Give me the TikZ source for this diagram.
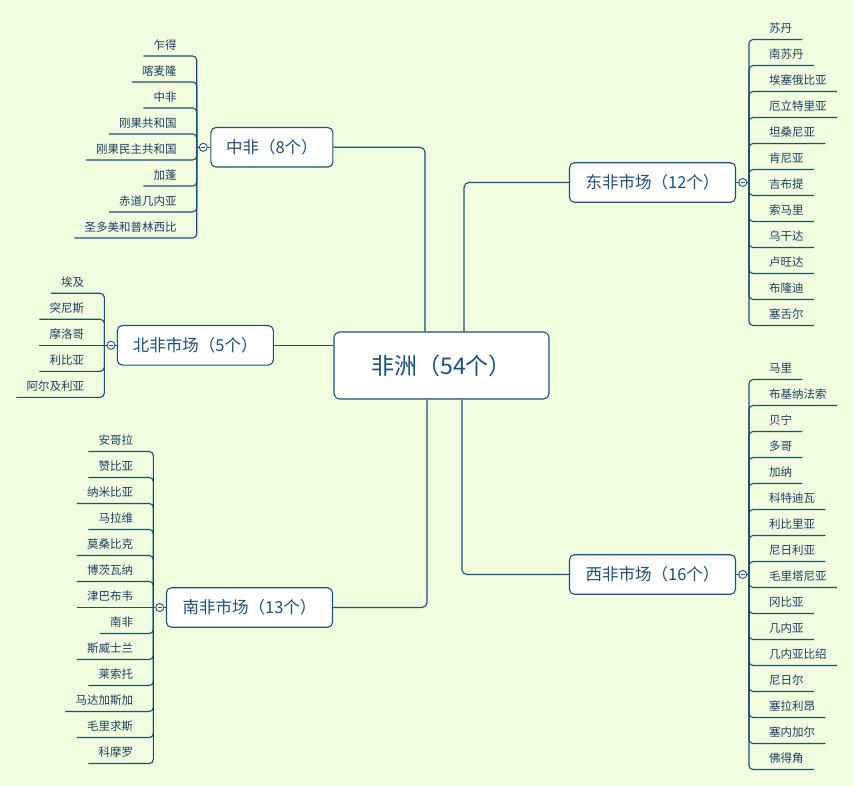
\documentclass[tikz,border=0pt]{standalone}
\usepackage{fontspec}
\newfontfamily\cjk{Noto Sans CJK SC}
\definecolor{bgc}{HTML}{F0FDDF}
\definecolor{lnc}{HTML}{1F4E79}
\definecolor{txc}{HTML}{1E3D60}
\begin{document}
\begin{tikzpicture}[x=1pt,y=-1pt,
  conn/.style={draw=lnc,line width=1.1pt,rounded corners=5pt},
  leafline/.style={draw=lnc,line width=1.1pt,rounded corners=4pt},
  rootbox/.style={draw=lnc,line width=1.1pt,fill=white,rounded corners=6pt,
    minimum width=215pt,minimum height=67pt,inner sep=0pt,
    font=\cjk\fontsize{23}{28}\selectfont,text=lnc},
  branchbox/.style={draw=lnc,line width=1.1pt,fill=white,rounded corners=5pt,
    minimum height=39.5pt,inner sep=0pt,
    font=\cjk\fontsize{16.5}{20}\selectfont,text=lnc},
  leafL/.style={anchor=south east,inner xsep=10pt,inner ysep=0pt,minimum height=22pt,
    font=\cjk\fontsize{11.5}{14}\selectfont,text=txc},
  leafR/.style={anchor=south west,inner xsep=10pt,inner ysep=0pt,minimum height=22pt,
    font=\cjk\fontsize{11.5}{14}\selectfont,text=txc},
  collapser/.style={circle,draw=lnc,line width=0.9pt,fill=white,minimum size=8pt,inner sep=0pt,
    path picture={\draw[lnc,line width=0.7pt]
      ([xshift=-2pt]path picture bounding box.center) --
      ([xshift=2pt]path picture bounding box.center);}}
]
\useasboundingbox[fill=bgc] (0,0) rectangle (854,786);

% root and branches
\node[rootbox] (root) at (441.5,365.5) {非洲（54个）};
\node[branchbox,minimum width=122pt] (zf) at (271.9,147.3) {中非（8个）};
\node[branchbox,minimum width=156pt] (bf) at (195.3,345.3) {北非市场（5个）};
\node[branchbox,minimum width=166pt] (nf) at (249.5,607.5) {南非市场（13个）};
\node[branchbox,minimum width=166pt] (df) at (652.5,182.5) {东非市场（12个）};
\node[branchbox,minimum width=166pt] (xf) at (652.5,574.5) {西非市场（16个）};

\draw[conn] (zf.east) -| ([xshift=-16.5pt]root.north);
\draw[conn] (df.west) -| ([xshift=22.5pt]root.north);
\draw[conn] (nf.east) -| ([xshift=-14.5pt]root.south);
\draw[conn] (xf.west) -| ([xshift=20.5pt]root.south);
\draw[conn] (bf.east) -- (bf.east -| root.west);

% collapse circles and bar points
\node[collapser] (zfc) at (203.3,147.3) {};
\node[collapser] (bfc) at (111,345.3) {};
\node[collapser] (nfc) at (159.7,607.5) {};
\node[collapser] (dfc) at (742.7,182.5) {};
\node[collapser] (xfc) at (742.7,574.5) {};
\coordinate (zfbar) at (196.7,147.3);
\coordinate (bfbar) at (104.3,345.3);
\coordinate (nfbar) at (153.3,607.5);
\coordinate (dfbar) at (749,182.5);
\coordinate (xfbar) at (749,574.5);
\foreach \b in {zf,bf,nf}{
  \draw[conn] (\b.west) -- (\b c.east);
  \draw[conn] (\b c.west) -- (\b bar);
}
\foreach \b in {df,xf}{
  \draw[conn] (\b.east) -- (\b c.west);
  \draw[conn] (\b c.east) -- (\b bar);
}

% 中非
\foreach \t [count=\i] in {乍得,喀麦隆,中非,刚果共和国,刚果民主共和国,加蓬,赤道几内亚,圣多美和普林西比}{
  \node[leafL] (zf\i) at (186.7,{56+26*(\i-1)}) {\t};
  \draw[leafline] (zfbar) |- (zf\i.south west);
}
% 北非
\foreach \t [count=\i] in {埃及,突尼斯,摩洛哥,利比亚,阿尔及利亚}{
  \node[leafL] (bf\i) at (94.3,{293.3+26*(\i-1)}) {\t};
  \ifnum\i=3
    \draw[leafline] (bfbar) -- (bf\i.south west);
  \else
    \draw[leafline] (bfbar) |- (bf\i.south west);
  \fi
}
% 南非
\foreach \t [count=\i] in {安哥拉,赞比亚,纳米比亚,马拉维,莫桑比克,博茨瓦纳,津巴布韦,南非,斯威士兰,莱索托,马达加斯加,毛里求斯,科摩罗}{
  \node[leafL] (nf\i) at (143.3,{451.5+26*(\i-1)}) {\t};
  \ifnum\i=7
    \draw[leafline] (nfbar) -- (nf\i.south west);
  \else
    \draw[leafline] (nfbar) |- (nf\i.south west);
  \fi
}
% 东非
\foreach \t [count=\i] in {苏丹,南苏丹,埃塞俄比亚,厄立特里亚,坦桑尼亚,肯尼亚,吉布提,索马里,乌干达,卢旺达,布隆迪,塞舌尔}{
  \node[leafR] (df\i) at (759,{39.5+26*(\i-1)}) {\t};
  \draw[leafline] (dfbar) |- (df\i.south east);
}
% 西非
\foreach \t [count=\i] in {马里,布基纳法索,贝宁,多哥,加纳,科特迪瓦,利比里亚,尼日利亚,毛里塔尼亚,冈比亚,几内亚,几内亚比绍,尼日尔,塞拉利昂,塞内加尔,佛得角}{
  \node[leafR] (xf\i) at (759,{379.5+26*(\i-1)}) {\t};
  \draw[leafline] (xfbar) |- (xf\i.south east);
}
\end{tikzpicture}
\end{document}
